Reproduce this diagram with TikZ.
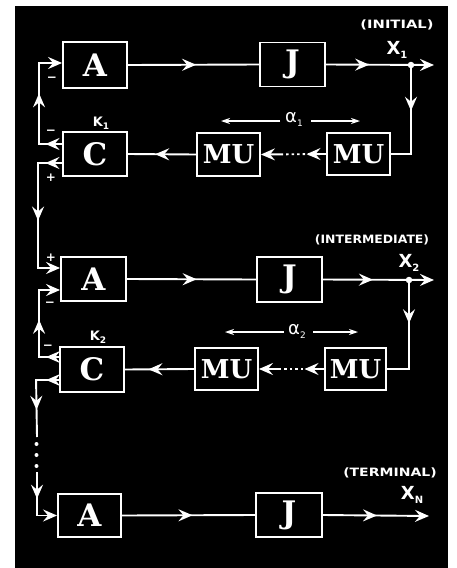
\documentclass[tikz,border=0pt]{standalone}
\usepackage{fontspec}
\usepackage{graphicx}
\setmainfont{DejaVu Serif}
\newfontfamily\handf{DejaVu Sans}
\usetikzlibrary{arrows.meta,decorations.markings}
\tikzset{
  >={Stealth[length=14pt,width=12pt,inset=5pt]},
  wire/.style={color=white,line width=1.9pt},
  blk/.style={draw=white,line width=1.9pt,fill=black,text=white,minimum width=64pt,minimum height=44pt,inner sep=0pt,font=\fontsize{31}{31}\selectfont\bfseries},
  mublk/.style={blk,font=\fontsize{26}{26}\selectfont\bfseries},
  midarr/.style={postaction={decorate,decoration={markings,mark=at position #1 with {\arrow{>}}}}},
  dotwire/.style={wire,dash pattern=on 18pt off 3pt on 2.5pt off 3pt on 2.5pt off 3pt on 2.5pt off 3pt on 2.5pt off 3pt on 40pt},
  dimwire/.style={color=white,line width=1.2pt,-{Stealth[length=9pt,width=6pt,inset=3pt]}},
  tag/.style={text=white,font=\handf\bfseries\fontsize{11.5}{11.5}\selectfont,inner sep=0pt},
  xlbl/.style={text=white,font=\handf\bfseries\fontsize{18}{18}\selectfont,inner sep=0pt},
  klbl/.style={text=white,font=\handf\bfseries\fontsize{13}{13}\selectfont,inner sep=0pt},
  alab/.style={text=white,font=\handf\fontsize{18}{18}\selectfont,inner sep=0pt},
  sgn/.style={text=white,font=\handf\bfseries\fontsize{12}{12}\selectfont,inner sep=0pt},
  jdot/.style={circle,fill=white,inner sep=0pt,minimum size=6.5pt},
}
\begin{document}
\begin{tikzpicture}[x=1pt,y=-1pt]
\useasboundingbox (0,0) rectangle (457,568);
\fill[white] (0,0) rectangle (457,568);
\fill[black] (15,6) rectangle (448,568);

% ---------- row 1
\node[blk,minimum height=46pt] (A1) at (95,65) {A};
\node[blk,minimum width=65pt] (J1) at (292.5,64.5) {J};
\node[blk] (C1) at (95,154) {C};
\node[mublk,minimum width=63pt,minimum height=43pt] (M1L) at (228.5,154.5) {MU};
\node[mublk,minimum width=63pt,minimum height=42pt] (M1R) at (358.5,154) {MU};
\node[jdot] (X1) at (411,65) {};
\coordinate (O1) at (434,65);

% ---------- row 2
\node[blk,minimum width=65pt] (A2) at (93.5,279) {A};
\node[blk,minimum width=65pt,minimum height=45pt] (J2) at (289.5,279.5) {J};
\node[blk,minimum height=45pt] (C2) at (92,369.5) {C};
\node[mublk,minimum width=63pt,minimum height=42pt] (M2L) at (226.5,369) {MU};
\node[mublk,minimum width=61pt,minimum height=42pt] (M2R) at (355.5,369) {MU};
\node[jdot] (X2) at (409,280) {};
\coordinate (O2) at (434,280);

% ---------- row 3
\node[blk,minimum width=63pt,minimum height=43pt] (A3) at (89.5,515.5) {A};
\node[blk,minimum width=66pt] (J3) at (289,515) {J};
\coordinate (O3) at (429,516);

% ---------- connectors row 1
\draw[wire,midarr=0.52] (A1.east) -- (J1.west);
\draw[wire,->,midarr=0.40] (J1.east) -- (O1);
\draw[wire,midarr=0.42] (X1.center) |- (M1R.east);
\draw[dotwire,->,midarr=0.3] (M1R.west) -- (M1L.east);
\draw[wire,midarr=0.6] (M1L.west) -- (C1.east);
\draw[wire,->,midarr=0.13,midarr=0.58] ([yshift=10pt]C1.west) -- ++(-23,0) |- ([yshift=2pt]A1.west);
\draw[wire,->,midarr=0.11,midarr=0.54] ([yshift=-9pt]C1.west) -- ++(-24,0) |- ([yshift=11pt]A2.west);

% ---------- connectors row 2
\draw[wire,midarr=0.54] (A2.east) -- (J2.west);
\draw[wire,->,midarr=0.45] (J2.east) -- (O2);
\draw[wire,midarr=0.39] (X2.center) |- (M2R.east);
\draw[dotwire,->,midarr=0.3] (M2R.west) -- (M2L.east);
\draw[wire,midarr=0.66] (M2L.west) -- (C2.east);
\draw[wire,->,midarr=0.12,midarr=0.53] ([yshift=12.5pt]C2.west) -- ++(-20,0) |- ([yshift=-11pt]A2.west);
\coordinate (D1) at (37,437);
\coordinate (D2) at (37,472);
\draw[wire,midarr=0.16,midarr=0.66] ([yshift=-10.5pt]C2.west) -- ++(-23,0) -- (D1);
\fill[white] (36.5,444) circle (2) (36.5,455) circle (2) (36.5,466) circle (2);
\draw[wire,->,midarr=0.42] (D2) |- (A3.west);

% ---------- connectors row 3
\draw[wire,midarr=0.53] (A3.east) -- (J3.west);
\draw[wire,->,midarr=0.51] (J3.east) -- (O3);

% ---------- alpha spans
\node[alab] (al1) at (294,119) {α\raisebox{-4pt}{\fontsize{9}{9}\selectfont 1}};
\coordinate (al1a) at (221,121); \coordinate (al1p) at (280,121);
\coordinate (al1b) at (360,121); \coordinate (al1q) at (311,121);
\draw[dimwire] (al1p) -- (al1a);
\draw[dimwire] (al1q) -- (al1b);
\node[alab] (al2) at (297,331) {α\raisebox{-4pt}{\fontsize{9}{9}\selectfont 2}};
\coordinate (al2a) at (225,332); \coordinate (al2p) at (284,332);
\coordinate (al2b) at (358,332); \coordinate (al2q) at (313,332);
\draw[dimwire] (al2p) -- (al2a);
\draw[dimwire] (al2q) -- (al2b);

% ---------- labels
\node[tag] (t1) at (397,25) {\scalebox{1.28}[1]{(INITIAL)}};
\node[xlbl] (x1) at (397,50) {X\raisebox{-4pt}{\fontsize{10}{10}\selectfont 1}};
\node[tag] (t2) at (372,240) {\scalebox{1.08}[1]{(INTERMEDIATE)}};
\node[xlbl] (x2) at (409,263) {X\raisebox{-4pt}{\fontsize{10}{10}\selectfont 2}};
\node[tag] (t3) at (390,473) {\scalebox{1.22}[1]{(TERMINAL)}};
\node[xlbl] (xn) at (412,495) {X\raisebox{-4pt}{\fontsize{10}{10}\selectfont N}};
\node[klbl] (k1) at (101,123) {K\raisebox{-3pt}{\fontsize{9}{9}\selectfont 1}};
\node[klbl] (k2) at (98,337) {K\raisebox{-3pt}{\fontsize{9}{9}\selectfont 2}};

% ---------- signs
\node[sgn] (s1) at (52,79) {−};
\node[sgn] (s2) at (51,132) {−};
\node[sgn] (s3) at (51,178) {+};
\node[sgn] (s4) at (51,258) {+};
\node[sgn] (s5) at (50,304) {−};
\node[sgn] (s6) at (48,347) {−};
\end{tikzpicture}
\end{document}
